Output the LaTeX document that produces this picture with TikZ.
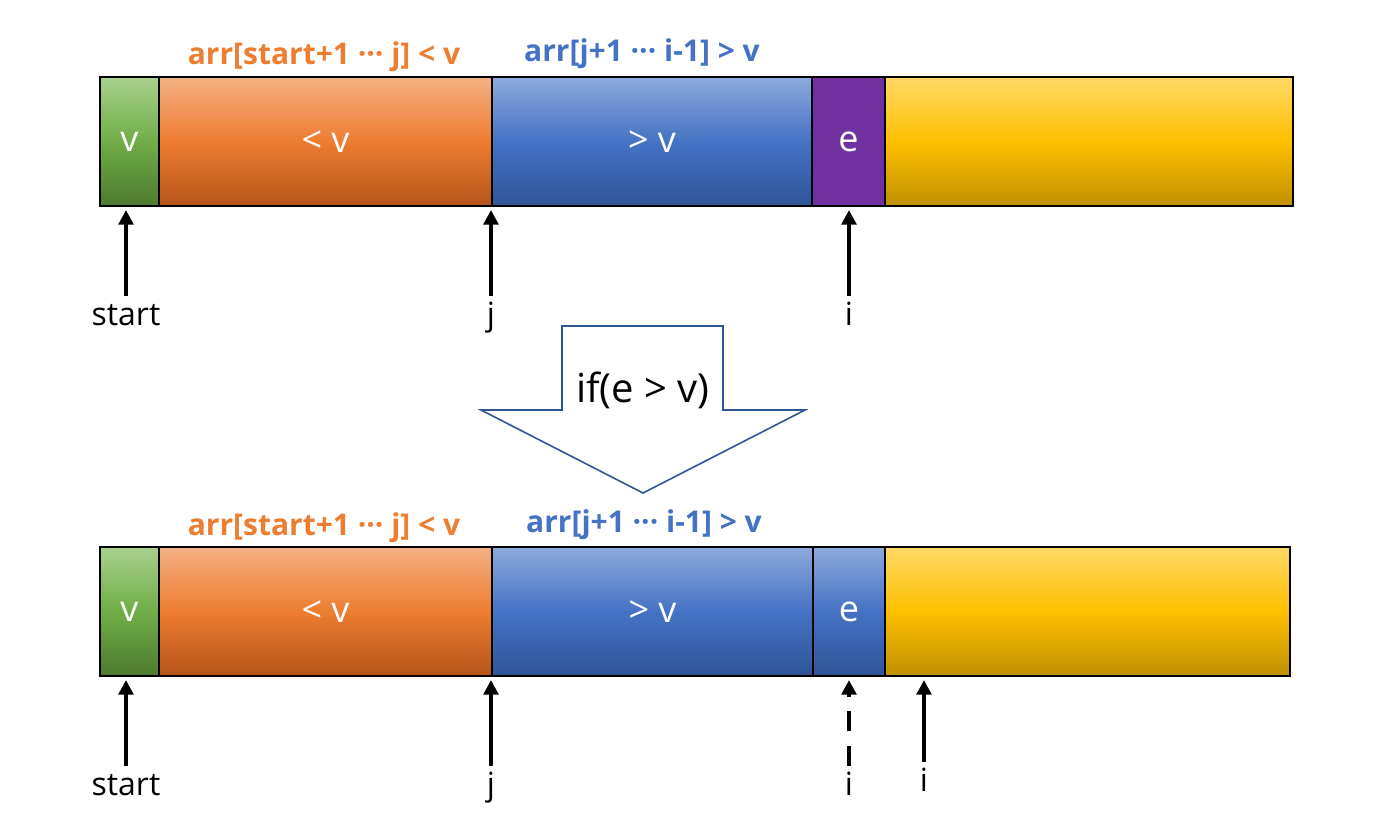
\documentclass[tikz,border=0pt]{standalone}
\usepackage{fontspec}
\setmainfont{Open Sans}
\usetikzlibrary{arrows.meta}
\definecolor{grnT}{HTML}{A9D18E}\definecolor{grnM}{HTML}{70AD47}\definecolor{grnB}{HTML}{4E7A30}
\definecolor{orgT}{HTML}{F4B183}\definecolor{orgM}{HTML}{ED7D31}\definecolor{orgB}{HTML}{B4541A}
\definecolor{bluT}{HTML}{8FAADC}\definecolor{bluM}{HTML}{4472C4}\definecolor{bluB}{HTML}{2F5597}
\definecolor{ylwT}{HTML}{FFD966}\definecolor{ylwM}{HTML}{FFC000}\definecolor{ylwB}{HTML}{BF9000}
\definecolor{purp}{HTML}{7030A0}
\definecolor{outl}{HTML}{2F5597}
\begin{document}
\begin{tikzpicture}[x=0.75pt,y=-0.75pt,
    seg/.style={draw=black,line width=1.3pt,anchor=north west,inner sep=0pt,outer sep=0pt,
        minimum height=96.75pt,text=white,font=\fontsize{27}{32}\selectfont},
    grnseg/.style={top color=grnT,bottom color=grnB,middle color=grnM},
    orgseg/.style={top color=orgT,bottom color=orgB,middle color=orgM},
    bluseg/.style={top color=bluT,bottom color=bluB,middle color=bluM},
    ylwseg/.style={top color=ylwT,bottom color=ylwB,middle color=ylwM},
    ptr/.style={line width=3pt,-{Triangle[length=11pt,width=11pt]}},
    lab/.style={font=\fontsize{24}{28}\selectfont,anchor=north,inner sep=0pt,
        text height=22pt,text depth=6pt},
    rangetext/.style={font=\bfseries\fontsize{22.5}{27}\selectfont}]
    \useasboundingbox (0,0) rectangle (1378,825);

    % before
    \node[seg,grnseg,minimum width=44.25pt] (v1) at (100,77) {v};
    \node[seg,orgseg,minimum width=249.75pt] (lt1) at (v1.north east) {< v};
    \node[seg,bluseg,minimum width=240pt] (gt1) at (lt1.north east) {> v};
    \node[seg,fill=purp,minimum width=54.75pt] (e1) at (gt1.north east) {e};
    \node[seg,ylwseg,minimum width=306pt] (r1) at (e1.north east) {};

    \node[rangetext,text=orgM] (lbl1) at (324,57) {arr[start+1 ··· j] < v};
    \node[rangetext,text=bluM] (lbr1) at (642,54) {arr[j+1 ··· i-1] > v};

    \node[lab] (ls1) at (126,296) {start};
    \node[lab] (lj1) at (491,296) {j};
    \node[lab] (li1) at (849,296) {i};

    \path[draw,ptr,shorten >=3pt] (ls1.north) -- (ls1 |- v1.south);
    \path[draw,ptr,shorten >=3pt] (lj1.north) -- (lj1 |- gt1.south);
    \path[draw,ptr,shorten >=3pt] (li1.north) -- (li1 |- e1.south);

    % condition
    \node[font=\fontsize{30}{36}\selectfont] (cond) at (643,390) {if(e > v)};
    \path[draw=outl,line width=1.2pt] (562,326) -- (723,326) -- (723,410) -- (805,410)
        -- (643,493) -- (481,410) -- (562,410) -- cycle;

    % after
    \node[seg,grnseg,minimum width=44.25pt] (v2) at (100,547) {v};
    \node[seg,orgseg,minimum width=249.75pt] (lt2) at (v2.north east) {< v};
    \node[seg,bluseg,minimum width=240.75pt] (gt2) at (lt2.north east) {> v};
    \node[seg,bluseg,minimum width=54pt] (e2) at (gt2.north east) {e};
    \node[seg,ylwseg,minimum width=303.75pt] (r2) at (e2.north east) {};

    \node[rangetext,text=orgM] (lbl2) at (324,528) {arr[start+1 ··· j] < v};
    \node[rangetext,text=bluM] (lbr2) at (644,525) {arr[j+1 ··· i-1] > v};

    \node[lab] (ls2) at (126,766) {start};
    \node[lab] (lj2) at (491,766) {j};
    \node[lab] (li2) at (849,766) {i};
    \node[lab] (ln2) at (924,762) {i};

    \path[draw,ptr,shorten >=3pt] (ls2.north) -- (ls2 |- v2.south);
    \path[draw,ptr,shorten >=3pt] (lj2.north) -- (lj2 |- gt2.south);
    \path[draw,ptr,shorten >=3pt,dash pattern=on 15pt off 11pt] (li2.north) -- (li2 |- e2.south);
    \path[draw,ptr,shorten >=3pt] (ln2.north) -- (ln2 |- r2.south);
\end{tikzpicture}
\end{document}
